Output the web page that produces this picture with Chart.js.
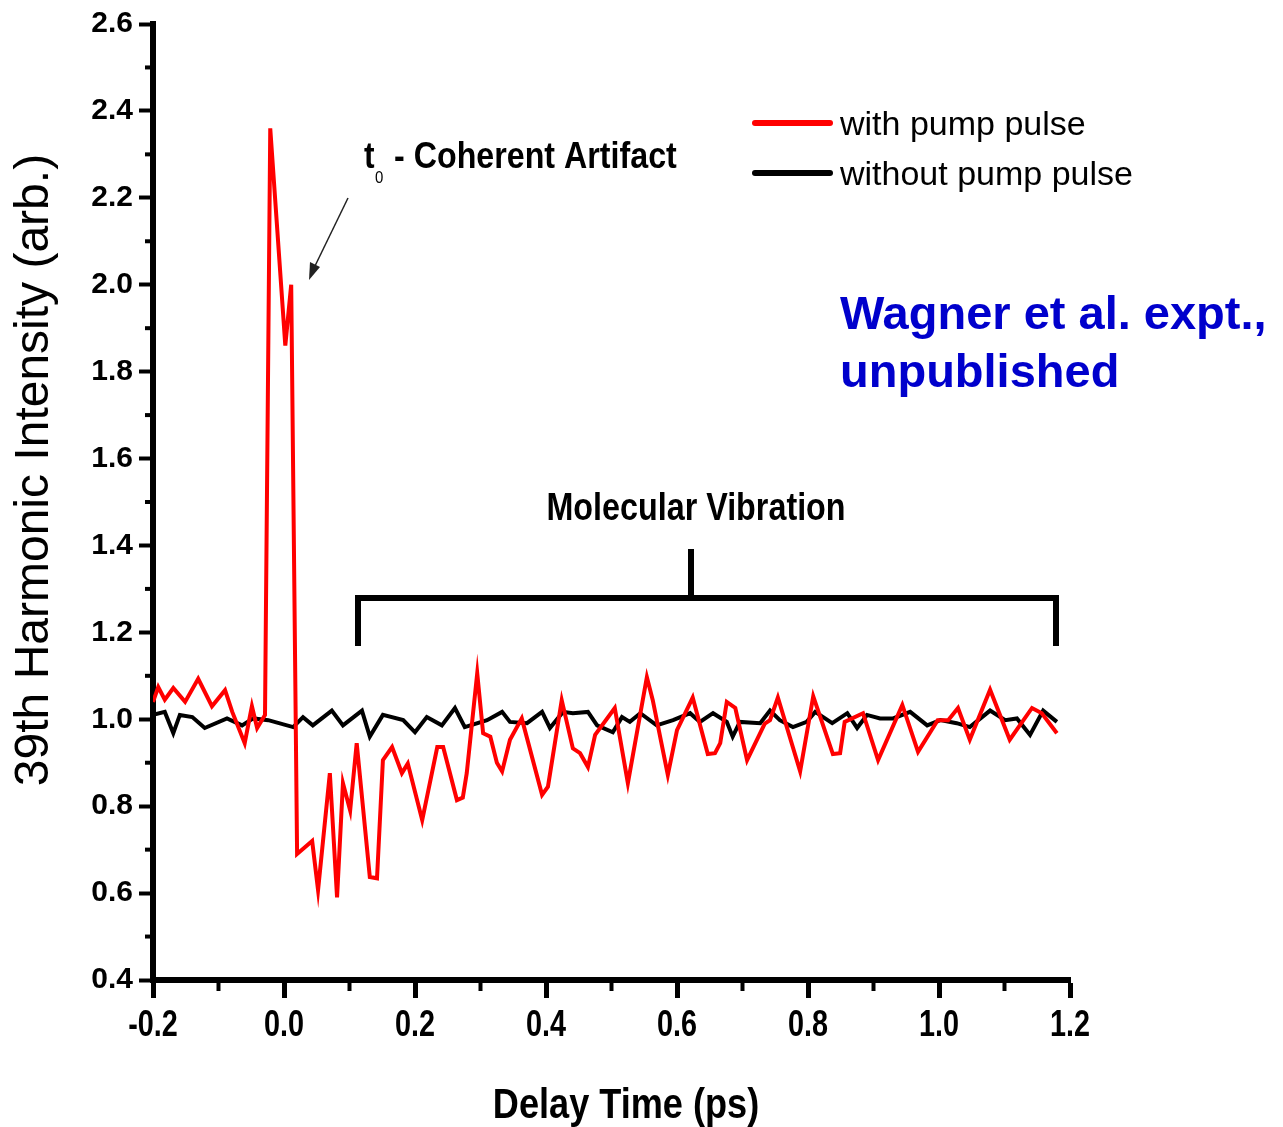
<!DOCTYPE html>
<html>
<head>
<meta charset="utf-8">
<script src="https://cdn.jsdelivr.net/npm/chart.js@4.4.0/dist/chart.umd.min.js"></script>
<style>
  html, body { margin: 0; padding: 0; background: #fff; }
  canvas { display: block; }
</style>
</head>
<body>
<canvas id="harmonicChart" width="1283" height="1127"></canvas>
<script>
// data (delay in ps, intensity in arb. units)
const redTime = [-0.200,-0.192,-0.182,-0.169,-0.151,-0.131,-0.110,-0.090,-0.079,-0.060,-0.049,-0.041,-0.029,-0.021,0.002,0.011,0.020,0.043,0.052,0.070,0.081,0.090,0.101,0.111,0.131,0.142,0.151,0.165,0.180,0.189,0.211,0.234,0.243,0.264,0.273,0.279,0.295,0.304,0.315,0.325,0.333,0.345,0.363,0.394,0.403,0.424,0.441,0.452,0.464,0.475,0.505,0.525,0.554,0.563,0.586,0.600,0.624,0.647,0.658,0.666,0.676,0.689,0.707,0.734,0.742,0.754,0.788,0.808,0.838,0.849,0.856,0.884,0.907,0.944,0.968,0.998,1.014,1.029,1.047,1.078,1.108,1.142,1.157,1.180];
const redValue = [1.04,1.074,1.045,1.072,1.04,1.093,1.03,1.067,1.017,0.945,1.03,0.98,1.01,2.36,1.86,2.0,0.69,0.72,0.607,0.876,0.59,0.853,0.79,0.945,0.637,0.634,0.906,0.936,0.876,0.898,0.768,0.936,0.936,0.814,0.82,0.876,1.106,0.968,0.96,0.9,0.88,0.953,1.002,0.826,0.845,1.044,0.933,0.922,0.89,0.964,1.026,0.853,1.097,1.044,0.872,0.975,1.05,0.92,0.922,0.945,1.04,1.026,0.906,0.99,0.998,1.05,0.88,1.053,0.92,0.922,0.994,1.014,0.906,1.033,0.925,0.998,0.998,1.026,0.953,1.068,0.953,1.026,1.014,0.968];
const blackTime = [-0.200,-0.182,-0.169,-0.159,-0.140,-0.121,-0.087,-0.064,-0.047,-0.024,0.014,0.029,0.044,0.073,0.090,0.119,0.131,0.151,0.182,0.200,0.218,0.241,0.261,0.276,0.310,0.333,0.345,0.371,0.394,0.406,0.426,0.441,0.464,0.478,0.502,0.516,0.528,0.544,0.569,0.594,0.620,0.635,0.655,0.676,0.685,0.696,0.727,0.742,0.757,0.777,0.798,0.811,0.837,0.860,0.875,0.890,0.910,0.930,0.956,0.982,1.002,1.027,1.047,1.078,1.101,1.119,1.139,1.159,1.180];
const blackValue = [1.01,1.017,0.968,1.01,1.005,0.98,1.002,0.986,1.002,0.998,0.982,1.005,0.986,1.02,0.986,1.02,0.96,1.01,0.998,0.97,1.005,0.986,1.026,0.982,0.998,1.017,0.994,0.991,1.017,0.98,1.017,1.014,1.017,0.986,0.97,1.005,0.994,1.014,0.986,0.998,1.014,0.994,1.014,0.994,0.96,0.994,0.991,1.02,0.998,0.982,0.994,1.017,0.991,1.014,0.98,1.01,1.002,1.002,1.017,0.986,0.998,0.991,0.982,1.02,0.998,1.002,0.964,1.02,0.994];

const xTickValues = [-0.2, 0.0, 0.2, 0.4, 0.6, 0.8, 1.0, 1.2];
const xMinorTicks = [-0.1, 0.1, 0.3, 0.5, 0.7, 0.9, 1.1];
const yTickValues = [0.4, 0.6, 0.8, 1.0, 1.2, 1.4, 1.6, 1.8, 2.0, 2.2, 2.4, 2.6];
const yMinorTicks = [0.5, 0.7, 0.9, 1.1, 1.3, 1.5, 1.7, 1.9, 2.1, 2.3, 2.5];

const seriesLabels = ['with pump pulse', 'without pump pulse'];
const xTitle = 'Delay Time (ps)';
const yTitle = '39th Harmonic Intensity (arb.)';

const ARIAL = "'Liberation Sans', Arial, sans-serif";

function toPoints(t, v) {
    return t.map((x, i) => ({ x: x, y: v[i] }));
}

function drawLine(ctx, x1, y1, x2, y2) {
    ctx.beginPath();
    ctx.moveTo(x1, y1);
    ctx.lineTo(x2, y2);
    ctx.stroke();
}

// no narrow face installed, so squeeze the normal one horizontally
function narrowText(ctx, text, x, y, font, sx, align) {
    ctx.save();
    ctx.font = font;
    ctx.textAlign = align || 'left';
    ctx.translate(x, y);
    ctx.scale(sx, 1);
    ctx.fillText(text, 0, 0);
    ctx.restore();
}

// titles, minor ticks, x labels, legend and the annotations of the original figure
const overlayPlugin = {
    id: 'overlay',
    afterDraw(chart) {
        const ctx = chart.ctx;
        const xs = chart.scales.x;
        const ys = chart.scales.y;
        ctx.save();

        // minor ticks
        ctx.strokeStyle = '#000';
        ctx.lineWidth = 4;
        yMinorTicks.forEach(v => {
            const py = ys.getPixelForValue(v);
            drawLine(ctx, ys.right - 8, py, ys.right, py);
        });
        xMinorTicks.forEach(v => {
            const px = xs.getPixelForValue(v);
            drawLine(ctx, px, xs.top, px, xs.top + 11);
        });

        // x tick labels (condensed bold)
        ctx.fillStyle = '#000';
        ctx.textBaseline = 'alphabetic';
        xs.ticks.forEach(t => {
            narrowText(ctx, t.value.toFixed(1), xs.getPixelForValue(t.value), 1036,
                'bold 36px ' + ARIAL, 0.8, 'center');
        });

        // axis titles
        narrowText(ctx, xTitle, 626, 1118, 'bold 42px ' + ARIAL, 0.86, 'center');

        ctx.save();
        ctx.translate(48, 470);
        ctx.rotate(-Math.PI / 2);
        ctx.font = '48px ' + ARIAL;
        ctx.textAlign = 'center';
        ctx.fillText(yTitle, 0, 0);
        ctx.restore();

        // legend
        ctx.textAlign = 'left';
        ctx.font = '34px ' + ARIAL;
        ctx.lineCap = 'round';
        const legendY = [123, 173];
        chart.data.datasets.forEach((ds, i) => {
            ctx.strokeStyle = ds.borderColor;
            ctx.lineWidth = 6;
            drawLine(ctx, 755, legendY[i], 830, legendY[i]);
            ctx.fillStyle = '#000';
            ctx.fillText(ds.label, 840, legendY[i] + 12);
        });

        // t0 - Coherent Artifact
        ctx.fillStyle = '#000';
        narrowText(ctx, 't', 364, 168, 'bold 36px ' + ARIAL, 0.88);
        narrowText(ctx, '0', 375, 183, '17px ' + ARIAL, 0.88);
        narrowText(ctx, '- Coherent Artifact', 394, 168, 'bold 36px ' + ARIAL, 0.895);

        // arrow towards the second peak
        ctx.strokeStyle = '#222';
        ctx.lineWidth = 1.5;
        ctx.lineCap = 'butt';
        drawLine(ctx, 348, 198, 314, 268);
        ctx.fillStyle = '#222';
        ctx.beginPath();
        ctx.moveTo(309, 280);
        ctx.lineTo(310, 262);
        ctx.lineTo(320, 267);
        ctx.closePath();
        ctx.fill();

        // Molecular Vibration bracket
        ctx.fillStyle = '#000';
        narrowText(ctx, 'Molecular Vibration', 696, 520, 'bold 38px ' + ARIAL, 0.85, 'center');
        ctx.strokeStyle = '#000';
        ctx.lineWidth = 6;
        ctx.lineCap = 'butt';
        ctx.lineJoin = 'miter';
        ctx.beginPath();
        ctx.moveTo(358, 646);
        ctx.lineTo(358, 598);
        ctx.lineTo(1056, 598);
        ctx.lineTo(1056, 646);
        ctx.stroke();
        drawLine(ctx, 691, 598, 691, 549);

        // source note
        ctx.textAlign = 'left';
        ctx.fillStyle = '#0000CC';
        ctx.font = 'bold 47px ' + ARIAL;
        ctx.fillText('Wagner et al. expt.,', 840, 329);
        ctx.fillText('unpublished', 840, 387);

        ctx.restore();
    }
};

const ctx = document.getElementById('harmonicChart').getContext('2d');

new Chart(ctx, {
    type: 'line',
    data: {
        datasets: [{
            label: seriesLabels[0],
            data: toPoints(redTime, redValue),
            borderColor: '#FF0000',
            borderWidth: 4,
            pointRadius: 0,
            tension: 0,
            fill: false
        }, {
            label: seriesLabels[1],
            data: toPoints(blackTime, blackValue),
            borderColor: '#000000',
            borderWidth: 4,
            pointRadius: 0,
            tension: 0,
            fill: false
        }]
    },
    options: {
        responsive: false,
        animation: false,
        layout: { padding: { top: 24, right: 213, left: 0, bottom: 0 } },
        plugins: {
            legend: { display: false },
            tooltip: { enabled: false }
        },
        scales: {
            x: {
                type: 'linear',
                min: -0.2,
                max: 1.2,
                afterBuildTicks: scale => { scale.ticks = xTickValues.map(v => ({ value: v })); },
                afterFit: scale => { scale.height = 147; },
                border: { display: true, color: '#000', width: 6 },
                grid: { drawOnChartArea: false, drawTicks: true, tickLength: 18, tickWidth: 5, tickColor: '#000' },
                ticks: { display: false }
            },
            y: {
                type: 'linear',
                min: 0.4,
                max: 2.6,
                afterBuildTicks: scale => { scale.ticks = yTickValues.map(v => ({ value: v })); },
                afterFit: scale => { scale.width = 153; },
                border: { display: true, color: '#000', width: 6 },
                grid: { drawOnChartArea: false, drawTicks: true, tickLength: 14, tickWidth: 4, tickColor: '#000' },
                ticks: {
                    color: '#000',
                    padding: 6,
                    font: { family: ARIAL, size: 30, weight: 'bold' },
                    callback: v => v.toFixed(1)
                }
            }
        }
    },
    plugins: [overlayPlugin]
});
</script>
</body>
</html>
